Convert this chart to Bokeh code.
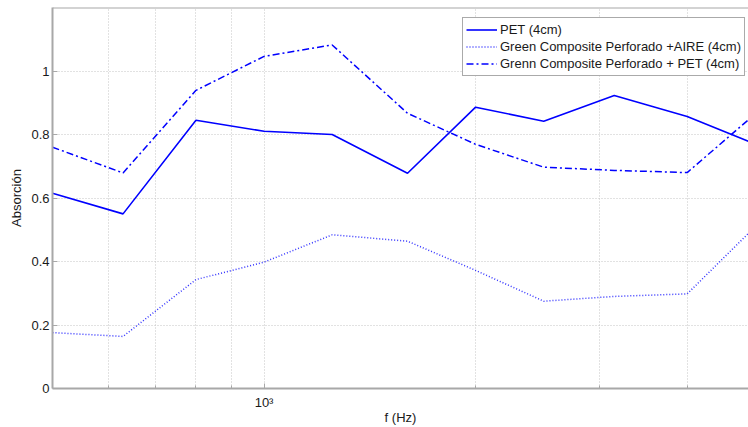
from bokeh.plotting import figure
from bokeh.models import (FixedTicker, Span, Legend, LegendItem, Range1d,
                          CustomJSTickFormatter)
from bokeh.embed import file_html
from bokeh.resources import INLINE

# ---- data ----
freq = [500, 630, 800, 1000, 1250, 1600, 2000, 2500, 3150, 4000, 5000]
pet = [0.615, 0.550, 0.845, 0.810, 0.800, 0.678, 0.886, 0.842, 0.923, 0.857, 0.770]
aire = [0.176, 0.164, 0.343, 0.398, 0.484, 0.464, 0.372, 0.275, 0.290, 0.298, 0.510]
gc_pet = [0.760, 0.679, 0.939, 1.046, 1.082, 0.867, 0.769, 0.697, 0.687, 0.680, 0.865]
series_labels = ["PET (4cm)",
                 "Green Composite Perforado +AIRE (4cm)",
                 "Grenn Composite Perforado + PET (4cm)"]
y_ticks = [0, 0.2, 0.4, 0.6, 0.8, 1.0]
x_major = [1000]
x_minor = [600, 700, 800, 900, 2000, 3000, 4000]
x_label = "f (Hz)"
y_label = "Absorción"

FONT = "Liberation Sans"
GRID = "#c4c4c4"
AXIS = "#a8a8a8"
BLUE = "#0000ff"
Y_TOP = 1.2

p = figure(width=748, height=427, x_axis_type="log",
           x_range=Range1d(500, 4890), y_range=Range1d(0, Y_TOP),
           output_backend="svg", toolbar_location=None,
           min_border_left=52, min_border_right=0, min_border_top=7,
           min_border_bottom=39)
p.outline_line_color = None
p.background_fill_color = "white"
p.border_fill_color = "white"

r1 = p.line(freq, pet, line_color=BLUE, line_width=1.6)
r2 = p.line(freq, aire, line_color=BLUE, line_width=1.5, line_dash="1 2",
            line_alpha=0.8)
r3 = p.line(freq, gc_pet, line_color=BLUE, line_width=1.5, line_dash="7 3 2 3")

# top border line
p.add_layout(Span(location=Y_TOP, dimension="width", line_color=AXIS,
                  line_width=2))

# x axis
xt = FixedTicker(ticks=x_major, minor_ticks=x_minor)
xa = p.xaxis[0]
xa.ticker = xt
xa.major_label_overrides = {1000: "10³"}
xa.axis_label = x_label
xa.major_tick_in = 5
xa.major_tick_out = 0
xa.minor_tick_in = 3
xa.minor_tick_out = 0
xa.major_label_standoff = 6
xa.axis_label_standoff = -3

# y axis
ya = p.yaxis[0]
ya.ticker = FixedTicker(ticks=y_ticks)
ya.formatter = CustomJSTickFormatter(
    code="return tick.toFixed(1).replace(/\\.0$/, '');")
ya.axis_label = y_label
ya.major_tick_in = 5
ya.major_tick_out = 0
ya.major_label_standoff = 3
ya.axis_label_standoff = 4

for ax in (xa, ya):
    ax.axis_line_color = AXIS
    ax.axis_line_width = 2
    ax.major_tick_line_color = AXIS
    ax.minor_tick_line_color = AXIS if ax is xa else None
    ax.major_label_text_font = FONT
    ax.major_label_text_font_size = "13px"
    ax.major_label_text_line_height = 1.0
    ax.major_label_text_color = "#1a1a1a"
    ax.axis_label_text_font = FONT
    ax.axis_label_text_font_size = "13px"
    ax.axis_label_text_line_height = 1.0
    ax.axis_label_text_font_style = "normal"
    ax.axis_label_text_color = "#1a1a1a"

# grids
p.xgrid.ticker = xt
p.xgrid.grid_line_color = GRID
p.xgrid.grid_line_dash = "1 2"
p.xgrid.minor_grid_line_color = GRID
p.xgrid.minor_grid_line_dash = "1 2"
p.ygrid.ticker = FixedTicker(ticks=y_ticks)
p.ygrid.grid_line_color = GRID
p.ygrid.grid_line_dash = "1 2"

legend = Legend(items=[LegendItem(label=series_labels[0], renderers=[r1]),
                       LegendItem(label=series_labels[1], renderers=[r2]),
                       LegendItem(label=series_labels[2], renderers=[r3])],
                location=(410, 312), margin=0, padding=3, spacing=0,
                glyph_width=31, glyph_height=17, label_height=17,
                label_standoff=3, label_text_font=FONT,
                label_text_font_size="13px", label_text_color="#1a1a1a",
                border_line_color="#555555", border_line_width=1,
                background_fill_alpha=1.0)
p.add_layout(legend)

open("out.html", "w").write(file_html(p, INLINE))
